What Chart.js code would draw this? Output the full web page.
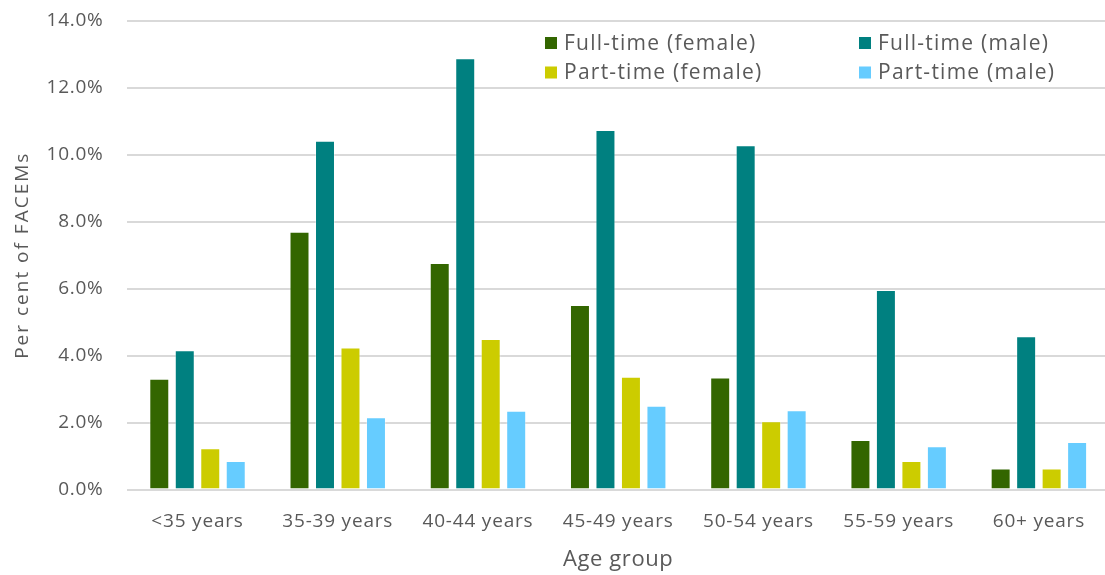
<!DOCTYPE html>
<html>
<head>
<meta charset="utf-8">
<script src="https://cdn.jsdelivr.net/npm/chart.js@4/dist/chart.umd.min.js"></script>
<style>
  html, body { margin: 0; padding: 0; background: #ffffff; overflow: hidden; }
  #wrap { position: relative; width: 1109px; height: 575px; }
</style>
</head>
<body>
<div id="wrap"><canvas id="chart" width="1109" height="575"></canvas></div>
<script>
// Age groups along the x axis
const ageGroups = ['<35 years', '35-39 years', '40-44 years', '45-49 years', '50-54 years', '55-59 years', '60+ years'];

// Share of FACEMs (%) in each age group, by work pattern and gender
const fullTimeFemale = [3.31, 7.70, 6.77, 5.51, 3.35, 1.48, 0.63];
const fullTimeMale   = [4.16, 10.42, 12.89, 10.74, 10.29, 5.96, 4.58];
const partTimeFemale = [1.23, 4.24, 4.50, 3.37, 2.04, 0.85, 0.63];
const partTimeMale   = [0.85, 2.16, 2.35, 2.50, 2.37, 1.29, 1.42];

const seriesLabels = ['Full-time (female)', 'Full-time (male)', 'Part-time (female)', 'Part-time (male)'];
const seriesColors = ['#336600', '#008080', '#cccc00', '#66ccff'];

// y axis ticks: 0% to 14% in steps of 2
const yTicks = [0, 2, 4, 6, 8, 10, 12, 14];

const FONT = '"Open Sans", "Noto Sans", sans-serif';
const TEXT = '#595959';

const seriesData = [fullTimeFemale, fullTimeMale, partTimeFemale, partTimeMale];

// Letter spacing for axis text (labels / titles), applied around the scale's own drawing
const axisSpacing = {
  x: { labels: '0.8px', title: '0.6px' },
  y: { labels: '0.7px', title: '2px' }
};

const spacedAxisText = {
  id: 'spacedAxisText',
  afterLayout(chart) {
    const ctx = chart.ctx;
    Object.values(chart.scales).forEach(scale => {
      const sp = axisSpacing[scale.id];
      if (!sp || scale._spacedText) return;
      scale._spacedText = true;
      const wrap = (name, spacing) => {
        const orig = scale[name].bind(scale);
        scale[name] = function (...args) {
          ctx.save();
          ctx.letterSpacing = spacing;
          orig(...args);
          ctx.restore();
        };
      };
      wrap('drawLabels', sp.labels);
      wrap('drawTitle', sp.title);
    });
  }
};

// Two-column legend drawn above the plot
const gridLegend = {
  id: 'gridLegend',
  afterDraw(chart) {
    const ctx = chart.ctx;
    const cols = [545, 859];
    const rows = [43, 72.5];
    // columns by gender, rows by work pattern
    const layout = [[0, 0], [1, 0], [0, 1], [1, 1]];
    ctx.save();
    ctx.font = '21px ' + FONT;
    ctx.letterSpacing = '1.25px';
    ctx.textBaseline = 'middle';
    ctx.textAlign = 'left';
    chart.data.datasets.forEach((ds, i) => {
      const [c, r] = layout[i];
      const x = cols[c], y = rows[r];
      ctx.fillStyle = ds.backgroundColor;
      ctx.fillRect(x, y - 6, 12, 12);
      ctx.fillStyle = TEXT;
      ctx.fillText(ds.label, x + 19, y + 1);
    });
    ctx.restore();
  }
};

new Chart(document.getElementById('chart'), {
  type: 'bar',
  data: {
    labels: ageGroups,
    datasets: seriesData.map((d, i) => ({
      label: seriesLabels[i],
      data: d,
      backgroundColor: seriesColors[i],
      borderColor: 'rgba(255,255,255,0.35)',
      borderWidth: 1,
      categoryPercentage: 0.727,
      barPercentage: 0.784
    }))
  },
  options: {
    responsive: false,
    animation: false,
    devicePixelRatio: 1,
    layout: { padding: { top: 21, right: 0, bottom: 0, left: 0 } },
    plugins: {
      legend: { display: false },
      tooltip: { enabled: false }
    },
    scales: {
      x: {
        grid: { display: false, drawTicks: false },
        border: { display: false },
        ticks: {
          color: TEXT,
          font: { family: FONT, size: 19 },
          padding: 21,
          maxRotation: 0,
          autoSkip: false
        },
        title: {
          display: true,
          text: 'Age group',
          color: TEXT,
          font: { family: FONT, size: 22 },
          padding: { top: 0, bottom: 2 }
        },
        afterFit(scale) { scale.height = 85.5; }
      },
      y: {
        min: 0,
        max: 14,
        grid: { color: '#d9d9d9', lineWidth: 2, drawTicks: false },
        border: { display: false },
        afterBuildTicks(scale) { scale.ticks = yTicks.map(v => ({ value: v })); },
        ticks: {
          color: TEXT,
          font: { family: FONT, size: 19 },
          padding: 24,
          callback: v => v.toFixed(1) + '%'
        },
        title: {
          display: true,
          text: 'Per cent of FACEMs',
          color: TEXT,
          font: { family: FONT, size: 19 },
          padding: { top: 11, bottom: 0 }
        },
        afterFit(scale) {
          scale.width = 127.4;
          scale.paddingTop = 0;
          scale.paddingBottom = 0;
        }
      }
    }
  },
  plugins: [spacedAxisText, gridLegend]
});
</script>
</body>
</html>
